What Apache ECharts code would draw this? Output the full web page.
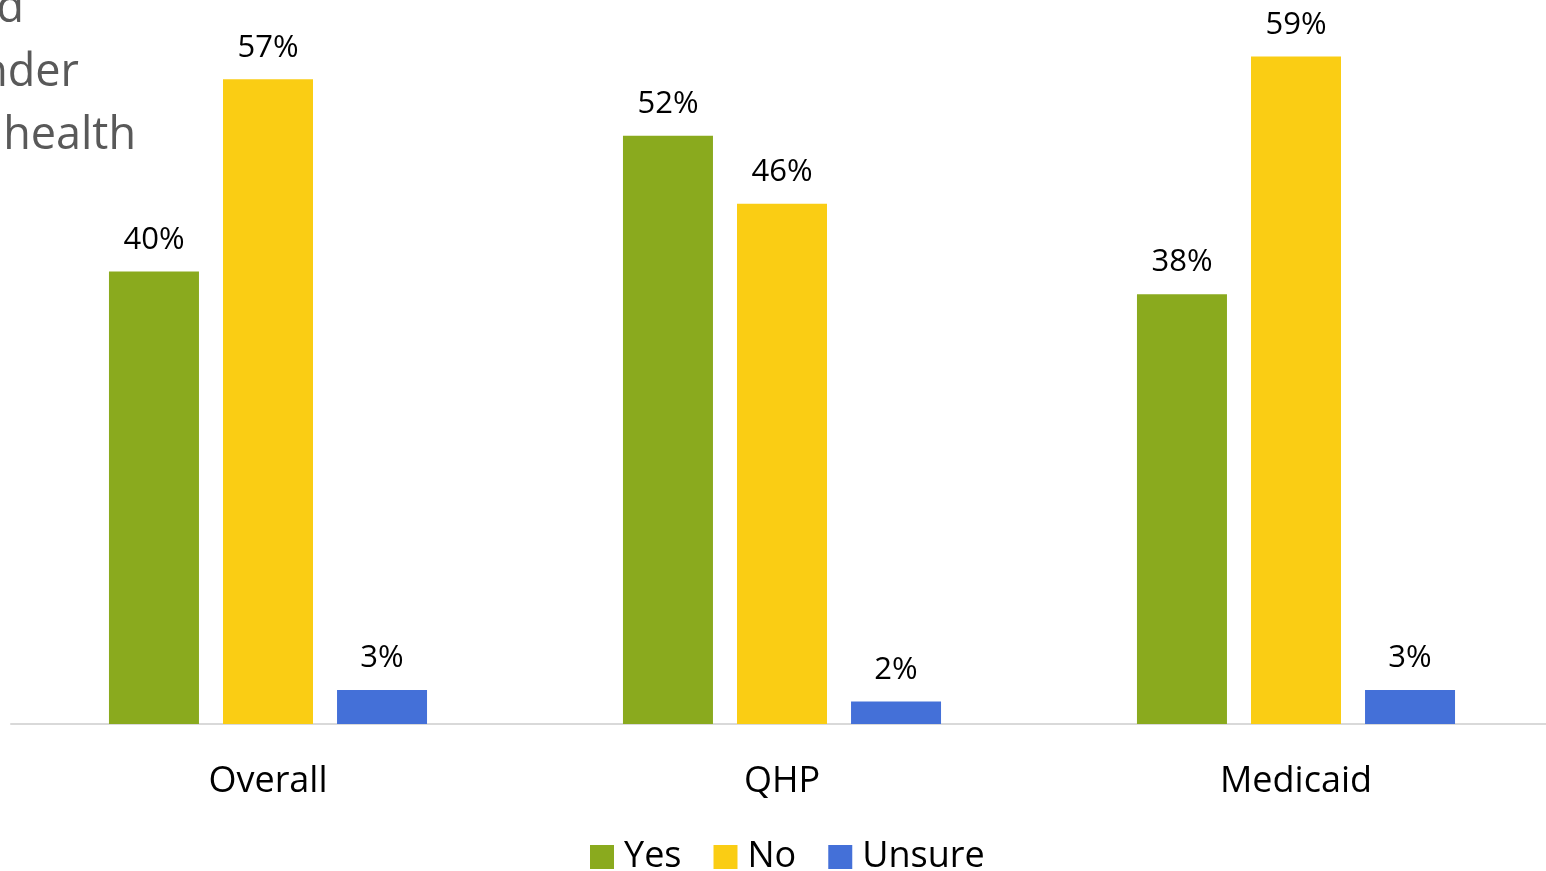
<!DOCTYPE html>
<html>
<head>
<meta charset="utf-8">
<script src="https://cdn.jsdelivr.net/npm/echarts@6/dist/echarts.min.js"></script>
<style>html,body{margin:0;padding:0;background:#fff;}#chart{width:1546px;height:871px;}</style>
</head>
<body>
<div id="chart"></div>
<script>
const categories = ['Overall', 'QHP', 'Medicaid'];
const yesValues = [40, 52, 38];
const noValues = [57, 46, 59];
const unsureValues = [3, 2, 3];
const seriesNames = ['Yes', 'No', 'Unsure'];
const titleFragments = ['and', 'under', 'health'];

const colors = ['#8AAA1E', '#FACD14', '#4470D8'];
const font = '"Open Sans", "Noto Sans", sans-serif';

const chart = echarts.init(document.getElementById('chart'));
const labelCfg = {
  show: true, position: 'top', distance: 16,
  formatter: p => p.value + '%',
  color: '#000', fontSize: 31, fontFamily: font
};
function mk(name, data, color) {
  return {
    name, type: 'bar', data, barWidth: 90, barGap: '26.7%',
    itemStyle: { color }, label: labelCfg, silent: true
  };
}
chart.setOption({
  animation: false,
  backgroundColor: '#fff',
  grid: { left: 11, right: -7, top: 0, bottom: 147, containLabel: false, outerBoundsMode: 'none' },
  xAxis: {
    type: 'category', data: categories,
    axisLine: { lineStyle: { color: '#D9D9D9', width: 2 } },
    axisTick: { show: false },
    axisLabel: { color: '#000', fontSize: 36, fontFamily: font, margin: 40 }
  },
  yAxis: { type: 'value', min: 0, max: 64, show: false, splitLine: { show: false } },
  legend: {
    data: seriesNames, bottom: -9, left: 585,
    itemWidth: 24, itemHeight: 24, itemGap: 32, icon: 'rect',
    textStyle: { color: '#000', fontSize: 36, fontFamily: font, padding: [0, 0, 0, 5] }
  },
  graphic: [
    { type: 'text', x: 24, y: 32, style: { text: titleFragments[0], fill: '#595959', font: '45px ' + font, align: 'right', verticalAlign: 'bottom' } },
    { type: 'text', x: 79, y: 96, style: { text: titleFragments[1], fill: '#595959', font: '45px ' + font, align: 'right', verticalAlign: 'bottom' } },
    { type: 'text', x: 136, y: 159, style: { text: titleFragments[2], fill: '#595959', font: '45px ' + font, align: 'right', verticalAlign: 'bottom' } }
  ],
  series: [
    mk(seriesNames[0], yesValues, colors[0]),
    mk(seriesNames[1], noValues, colors[1]),
    mk(seriesNames[2], unsureValues, colors[2])
  ]
});
</script>
</body>
</html>
